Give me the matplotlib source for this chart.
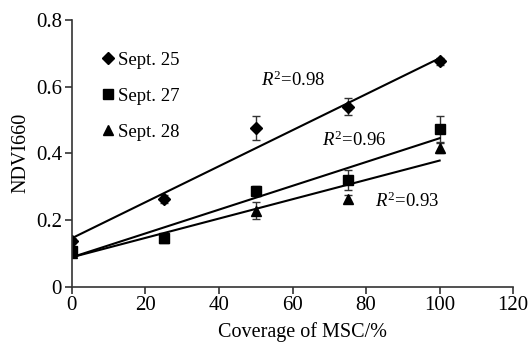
import matplotlib
matplotlib.use('Agg')
import matplotlib.pyplot as plt
from matplotlib.lines import Line2D
import numpy as np

plt.rcParams['font.family'] = 'Liberation Serif'
plt.rcParams['mathtext.fontset'] = 'custom'
plt.rcParams['mathtext.rm'] = 'Liberation Serif'
plt.rcParams['mathtext.it'] = 'Liberation Serif:italic'

coverage = [0, 25, 50, 75, 100]

sept25 = [0.138, 0.262, 0.476, 0.540, 0.676]
sept25_err = [0.008, 0.012, 0.035, 0.025, 0.010]
sept27 = [0.108, 0.147, 0.288, 0.320, 0.473]
sept27_err = [0.008, 0.010, 0.015, 0.030, 0.040]
sept28 = [0.100, 0.145, 0.228, 0.262, 0.415]
sept28_err = [0.006, 0.008, 0.025, 0.012, 0.015]

# fitted lines: (intercept, slope)
fit25 = (0.145, 0.00540)
fit27 = (0.088, 0.00357)
fit28 = (0.088, 0.00290)

r2_labels = ['0.98', '0.96', '0.93']
r2_pos = [(51.5, 0.62), (68.0, 0.44), (82.5, 0.255)]

fig = plt.figure(figsize=(5.28, 3.42), dpi=100)
ax = fig.add_axes([0.136, 0.162, 0.836, 0.780])

series = [
    (sept25, sept25_err, fit25, 'D', 6.5, 'Sept. 25'),
    (sept27, sept27_err, fit27, 's', 7, 'Sept. 27'),
    (sept28, sept28_err, fit28, '^', 7.5, 'Sept. 28'),
]

xs = np.array([0, 100])
handles = []
for y, err, fit, mk, ms, lab in series:
    ax.errorbar(coverage, y, yerr=err, fmt=mk, color='black', ms=ms,
                ecolor='#333333', elinewidth=1, capsize=3, capthick=1)
    ax.plot(xs, fit[0] + fit[1] * xs, color='black', lw=1.5)
    handles.append(Line2D([], [], marker=mk, ms=ms, color='black', ls='none', label=lab))

for txt, (px, py) in zip(r2_labels, r2_pos):
    ax.text(px, py, '$R^2$=' + txt, fontsize=13.5, va='center', ha='left')

leg = ax.legend(handles=handles, loc='upper left', bbox_to_anchor=(0.065, 0.88),
                frameon=False, fontsize=13.5, handletextpad=0.15, labelspacing=1.0,
                handlelength=0.8, borderpad=0, borderaxespad=0)

ax.set_xlim(0, 120)
ax.set_ylim(0, 0.8)
ax.set_xticks([0, 20, 40, 60, 80, 100, 120])
ax.set_yticks([0, 0.2, 0.4, 0.6, 0.8])
ax.set_yticklabels(['0', '0.2', '0.4', '0.6', '0.8'])
ax.tick_params(labelsize=15, length=5, width=1.2, color='#333333', pad=2)
for s in ['top', 'right']:
    ax.spines[s].set_visible(False)
for s in ['left', 'bottom']:
    ax.spines[s].set_color('#333333')
    ax.spines[s].set_linewidth(1.2)

ax.set_xlabel('Coverage of MSC/%', fontsize=14.5, labelpad=5, x=0.523)
ax.set_ylabel('NDVI660', fontsize=14.5, labelpad=4)

fig.savefig('out.png', dpi=100)
